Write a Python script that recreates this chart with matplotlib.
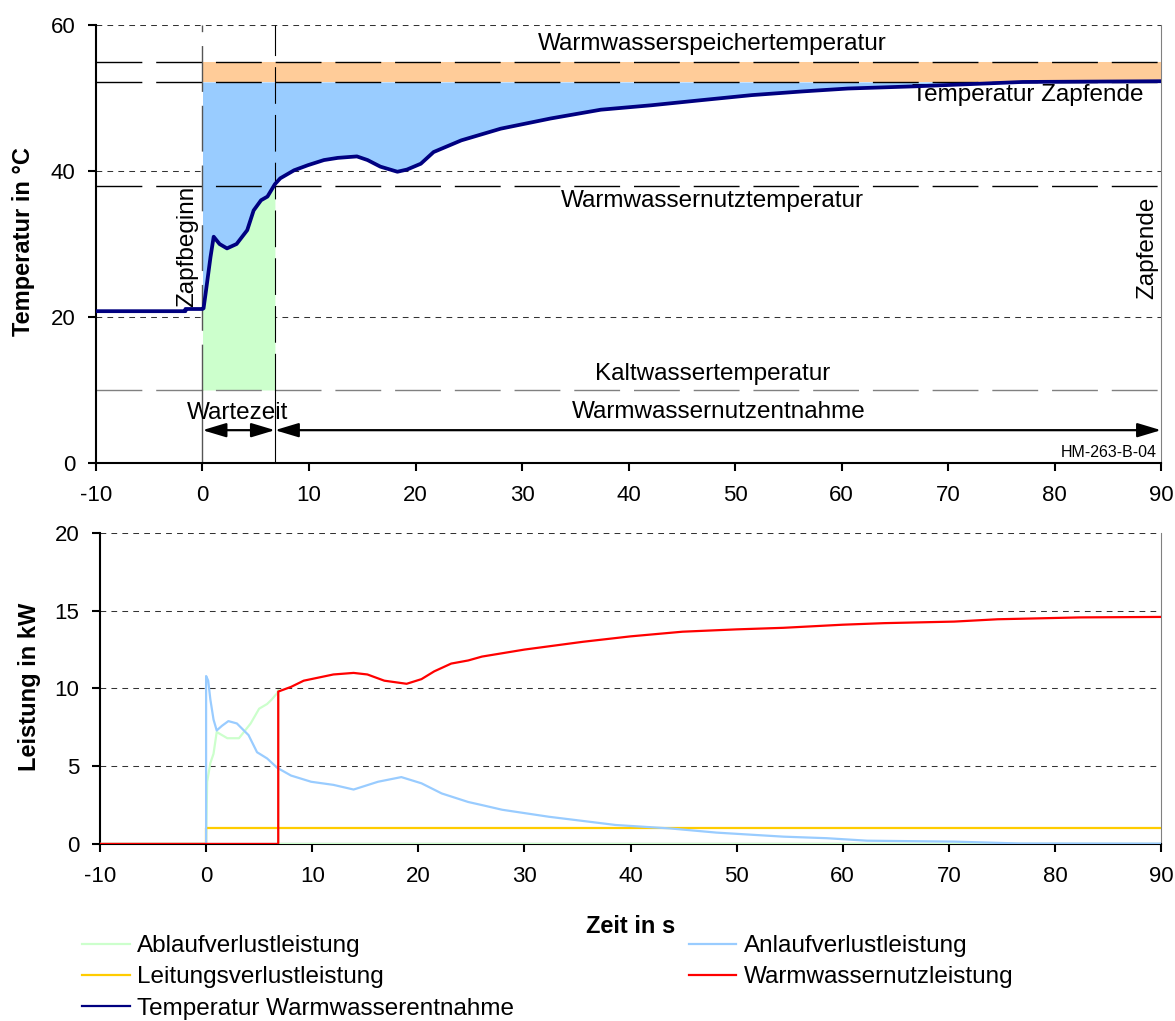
import matplotlib
matplotlib.use("Agg")
import matplotlib.pyplot as plt
from matplotlib.lines import Line2D
import numpy as np

plt.rcParams['font.family'] = ['Liberation Sans', 'DejaVu Sans']
plt.rcParams['axes.unicode_minus'] = False

# --- Temperatur Warmwasserentnahme (s, °C) ---
t_temp = [-10, -1.6, -1.6, 0.0, 0.1, 0.3, 0.75, 1.05, 1.6, 2.3, 3.2, 4.2, 4.8, 5.5, 6.1,
          6.8, 7.3, 8.6, 9.9, 11.4, 12.7, 14.5, 15.5, 16.7, 18.3, 19.2, 20.5, 21.7, 24.3,
          28.0, 32.7, 37.4, 42.1, 46.8, 51.6, 56.3, 60.6, 66.9, 72.0, 77.0, 90.0]
temp = [20.8, 20.8, 21.1, 21.1, 21.2, 23.3, 28.2, 31.0, 30.0, 29.4, 30.0, 31.9, 34.6, 36.0, 36.5,
        38.2, 39.0, 40.1, 40.8, 41.5, 41.8, 42.0, 41.5, 40.6, 39.9, 40.2, 41.0, 42.6, 44.2,
        45.8, 47.2, 48.4, 49.0, 49.7, 50.4, 50.9, 51.3, 51.6, 51.9, 52.2, 52.3]

# reference temperatures
t_speicher = 55.0
t_zapfende = 52.2
t_nutz = 38.0
t_kalt = 10.0
t_start = 0.0
t_wartezeit = 6.8
t_end = 90.0

# --- Leistungen (s, kW) ---
t_nutzl = [-10, 6.8, 6.8, 8.0, 9.2, 12.0, 13.9, 15.2, 16.8, 18.9, 20.3, 21.5, 23.1, 24.7, 26.0,
           30.0, 35.5, 40.0, 44.9, 50.0, 54.4, 60.0, 63.9, 70.5, 74.6, 82.4, 90.0]
p_nutzl = [0, 0, 9.8, 10.1, 10.5, 10.9, 11.0, 10.9, 10.5, 10.3, 10.6, 11.1, 11.6, 11.8, 12.05,
           12.5, 13.0, 13.35, 13.65, 13.8, 13.9, 14.1, 14.2, 14.3, 14.45, 14.57, 14.6]

t_anlauf = [-10, 0, 0, 0.2, 0.4, 0.7, 1.0, 1.5, 2.1, 2.9, 4.0, 4.8, 5.75, 6.7, 8.0, 9.9, 12.0,
            13.9, 16.2, 18.4, 20.3, 22.2, 24.7, 26.0, 27.9, 32.3, 38.6, 43.7, 48.1, 54.4, 58.5,
            62.3, 70.5, 76.7, 90.0]
p_anlauf = [0, 0, 10.8, 10.5, 9.3, 8.0, 7.3, 7.6, 7.9, 7.75, 7.0, 5.9, 5.5, 4.9, 4.4, 4.0, 3.8,
            3.5, 4.0, 4.3, 3.9, 3.25, 2.7, 2.5, 2.2, 1.75, 1.22, 1.0, 0.73, 0.47, 0.37,
            0.21, 0.15, 0.03, 0.02]

t_ablauf = [-10, 0, 0.1, 0.4, 0.7, 1.0, 2.0, 3.1, 4.2, 5.0, 5.75, 6.2, 6.7, 6.8, 6.8, 90.0]
p_ablauf = [0, 0, 4.0, 5.2, 5.8, 7.2, 6.8, 6.8, 7.75, 8.7, 9.0, 9.3, 9.7, 9.9, 0, 0]

t_leitung = [-10, 0, 0, 90.0]
p_leitung = [0, 0, 1.0, 1.0]

c_navy = '#000080'
c_red = '#FF0000'
c_blue = '#99CCFF'
c_green = '#CCFFCC'
c_yellow = '#FFCC00'
c_orange = '#FFCC99'

fs_tick = 16
fs_text = 17.5
fs_label = 17

fig = plt.figure(figsize=(11.75, 10.21), dpi=100)
ax1 = fig.add_axes([0.0817, 0.5465, 0.9064, 0.429])
ax2 = fig.add_axes([0.0851, 0.1734, 0.9030, 0.3046])

for ax in (ax1, ax2):
    ax.set_xlim(-10, 90)
    ax.set_xticks(np.arange(-10, 91, 10))
    ax.spines['top'].set_visible(False)
    ax.spines['left'].set_linewidth(1.5)
    ax.spines['bottom'].set_linewidth(1.5)
    ax.spines['right'].set_linewidth(0.8)
    ax.spines['right'].set_color('#808080')
    ax.tick_params(direction='out', length=6, width=1.5, labelsize=fs_tick)
    ax.tick_params(axis='x', pad=10)
    ax.tick_params(axis='y', pad=9)
    ax.set_axisbelow(True)
    ax.grid(axis='y', color='#333333', linestyle=(0, (5.5, 5)), linewidth=0.75)

# --- oberes Diagramm: Temperaturen ---
ax1.set_ylim(0, 60)
ax1.set_yticks([0, 20, 40, 60])

x = np.array(t_temp)
y = np.array(temp)
ax1.fill_between([t_start, t_end], t_zapfende, t_speicher, color=c_orange, lw=0, zorder=1)
ax1.fill_between(x, y, t_zapfende, where=(x >= t_start) & (y <= t_zapfende),
                 color=c_blue, lw=0, zorder=1, interpolate=True)
ax1.fill_between(x, t_kalt, y, where=(x >= t_start) & (x <= t_wartezeit),
                 color=c_green, lw=0, zorder=1)

long_dash = (0, (33, 10))
for level, col in [(t_speicher, 'black'), (t_zapfende, 'black'), (t_nutz, 'black'), (t_kalt, '#808080')]:
    ax1.axhline(level, color=col, lw=1.0, linestyle=long_dash, zorder=2)

ax1.plot([t_start, t_start], [t_kalt, 60], color='#555555', lw=1.0, linestyle=long_dash, zorder=2)
ax1.plot([t_start, t_start], [0, t_kalt], color='#555555', lw=1.0, zorder=2)
ax1.plot([t_wartezeit, t_wartezeit], [t_kalt, 60], color='black', lw=0.8, linestyle=long_dash, zorder=2)
ax1.plot([t_wartezeit, t_wartezeit], [0, t_kalt], color='black', lw=0.8, zorder=2)

ax1.plot(t_temp, temp, color=c_navy, lw=2.7, zorder=4, solid_joinstyle='round')

ax1.text(47.9, 57.4, 'Warmwasserspeichertemperatur', ha='center', va='center', fontsize=fs_text)
ax1.text(88.4, 50.4, 'Temperatur Zapfende', ha='right', va='center', fontsize=fs_text)
ax1.text(47.9, 35.9, 'Warmwassernutztemperatur', ha='center', va='center', fontsize=fs_text)
ax1.text(47.9, 12.2, 'Kaltwassertemperatur', ha='center', va='center', fontsize=fs_text)
ax1.text(48.5, 7.0, 'Warmwassernutzentnahme', ha='center', va='center', fontsize=fs_text)
ax1.text(3.3, 6.8, 'Wartezeit', ha='center', va='center', fontsize=fs_text)
ax1.text(-1.4, 29.7, 'Zapfbeginn', rotation=90, ha='center', va='center', fontsize=fs_text)
ax1.text(88.7, 29.5, 'Zapfende', rotation=90, ha='center', va='center', fontsize=fs_text)
ax1.text(89.6, 1.5, 'HM-263-B-04', ha='right', va='center', fontsize=11.5)

arrow = dict(arrowstyle='<|-|>,head_length=1.0,head_width=0.3', mutation_scale=14.4,
             color='black', lw=1.6, shrinkA=0, shrinkB=0)
ax1.annotate('', xy=(t_start, 4.5), xytext=(t_wartezeit, 4.5), arrowprops=arrow, zorder=5)
ax1.annotate('', xy=(t_wartezeit, 4.5), xytext=(t_end, 4.5), arrowprops=arrow, zorder=5)

ax1.set_ylabel('Temperatur in °C', fontsize=fs_label, fontweight='bold')
ax1.yaxis.set_label_coords(-0.057, 0.505)

# --- unteres Diagramm: Leistungen ---
ax2.set_ylim(0, 20)
ax2.set_yticks([0, 5, 10, 15, 20])

l_ablauf, = ax2.plot(t_ablauf, p_ablauf, color=c_green, lw=1.6, zorder=3)
l_leitung, = ax2.plot(t_leitung, p_leitung, color=c_yellow, lw=1.6, zorder=4)
l_anlauf, = ax2.plot(t_anlauf, p_anlauf, color=c_blue, lw=1.6, zorder=5)
l_nutzl, = ax2.plot(t_nutzl, p_nutzl, color=c_red, lw=1.6, zorder=6)

ax2.set_ylabel('Leistung in kW', fontsize=fs_label, fontweight='bold')
ax2.yaxis.set_label_coords(-0.056, 0.505)
ax2.set_xlabel('Zeit in s', fontsize=fs_label, fontweight='bold')
ax2.xaxis.set_label_coords(0.5, -0.228)

l_temp = Line2D([], [], color=c_navy, lw=1.6)
handles = [l_ablauf, l_leitung, l_temp, l_anlauf, l_nutzl]
labels = ['Ablaufverlustleistung', 'Leitungsverlustleistung', 'Temperatur Warmwasserentnahme',
          'Anlaufverlustleistung', 'Warmwassernutzleistung']
fig.legend(handles, labels, ncol=2, loc='upper left', bbox_to_anchor=(0.070, 0.084),
           frameon=False, fontsize=fs_text, handlelength=1.95, handletextpad=0.3,
           columnspacing=7.2, labelspacing=0.38, borderaxespad=0, borderpad=0)

fig.savefig('out.png', dpi=100)
